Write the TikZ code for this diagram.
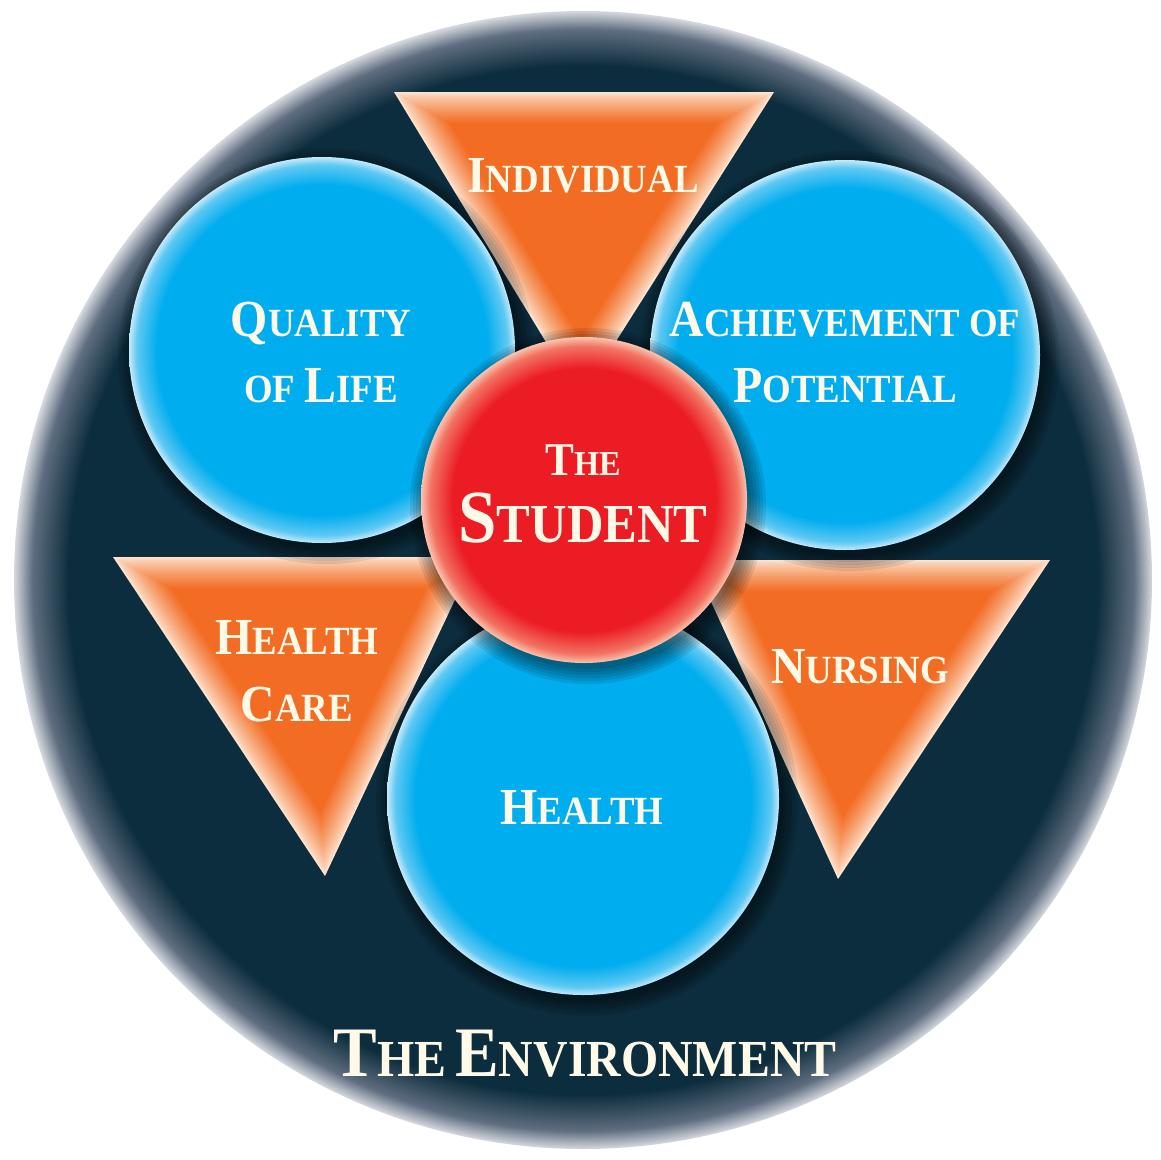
\documentclass[tikz,border=0pt]{standalone}
\usepackage{fontspec}
\setmainfont{Liberation Serif}[FakeStretch=0.92]
\usetikzlibrary{calc}

\definecolor{navy}{RGB}{12,45,61}
\definecolor{rimmid}{RGB}{95,110,128}
\definecolor{rimlight}{RGB}{214,217,223}
\definecolor{cyanc}{RGB}{0,173,238}
\definecolor{cyanm}{RGB}{95,200,243}
\definecolor{cyanl}{RGB}{195,234,250}
\definecolor{torange}{RGB}{242,108,35}
\definecolor{tpeach}{RGB}{253,228,208}
\definecolor{redc}{RGB}{236,28,36}
\definecolor{redm}{RGB}{242,115,98}
\definecolor{redl}{RGB}{250,195,175}
\definecolor{txt}{RGB}{255,249,232}

\pgfdeclareradialshading{envdisc}{\pgfpointorigin}{color(0bp)=(navy); color(22.6bp)=(navy); color(24.2bp)=(rimmid); color(25bp)=(rimlight); color(50bp)=(rimlight)}
\pgfdeclareradialshading{bluedisc}{\pgfpointorigin}{color(0bp)=(cyanc); color(21.4bp)=(cyanc); color(24bp)=(cyanm); color(25bp)=(cyanl); color(50bp)=(cyanl)}
\pgfdeclareradialshading{reddisc}{\pgfpointorigin}{color(0bp)=(redc); color(20.2bp)=(redc); color(23.6bp)=(redm); color(25bp)=(redl); color(50bp)=(redl)}

\newcommand\Bg[1]{{\fontsize{52}{52}\selectfont #1}}
\newcommand\Sm[1]{{\fontsize{40}{40}\selectfont #1}}

\newcommand\glowtri[4]{%
  \foreach \i in {0,...,22}{%
    \pgfmathsetmacro\s{1-\i*0.0135}%
    \pgfmathsetmacro\p{100*(\i/22)^0.8}%
    \fill[torange!\p!tpeach] ($(#4)!\s!(#1)$) -- ($(#4)!\s!(#2)$) -- ($(#4)!\s!(#3)$) -- cycle;
  }}
\newcommand\softshadow[2]{%
  \foreach \k in {0,...,5}{%
    \pgfmathsetmacro\rr{#2+3*\k}%
    \fill[black, opacity=0.09] ($(#1)+(4,6)$) circle[radius=\rr];
  }}

\tikzset{
  lbl/.style={text=txt, font=\bfseries\fontsize{40}{66}\selectfont, align=center, inner sep=0pt, anchor=base},
  bluec/.style={shading=bluedisc},
  redcirc/.style={shading=reddisc}
}

\begin{document}
\begin{tikzpicture}[x=1pt,y=-1pt]
\useasboundingbox (0,0) rectangle (1161,1159);
\fill[white] (0,0) rectangle (1161,1159);

% the environment disc
\coordinate (env) at (583,580);
\shade[shading=envdisc] (env) circle[radius=569];

% triangles
\coordinate (T1) at (394,92);  \coordinate (T2) at (774,92);   \coordinate (T3) at (580,398);  \coordinate (Ti) at (581.9,197.7);
\coordinate (L1) at (113,557); \coordinate (L2) at (475,557);  \coordinate (L3) at (325,876);  \coordinate (Li) at (309.3,662.2);
\coordinate (R1) at (692,560); \coordinate (R2) at (1050,560); \coordinate (R3) at (838,879);  \coordinate (Ri) at (854.9,664.6);
\glowtri{T1}{T2}{T3}{Ti}
\glowtri{L1}{L2}{L3}{Li}
\glowtri{R1}{R2}{R3}{Ri}

% blue circles
\coordinate (qol) at (322,350);
\coordinate (ach) at (845,355);
\coordinate (hea) at (583,799);
\softshadow{qol}{193}
\softshadow{ach}{195}
\softshadow{hea}{196}
\shade[bluec] (qol) circle[radius=193];
\shade[bluec] (ach) circle[radius=195];
\shade[bluec] (hea) circle[radius=196];

% red circle
\coordinate (stu) at (584,500);
\softshadow{stu}{163}
\shade[redcirc] (stu) circle[radius=163];

% labels (two-line nodes are placed at the baseline of their last line)
\node[lbl] (tIndividual) at (583,192) {\Bg{I}\Sm{NDIVIDUAL}};
\node[lbl] (tQuality) at (321,402) {\Bg{Q}\Sm{UALITY}\\\Sm{OF} \Bg{L}\Sm{IFE}};
\node[lbl] (tAchieve) at (845,402) {\Bg{A}\Sm{CHIEVEMENT OF}\\\Bg{P}\Sm{OTENTIAL}};
\node[lbl, font=\bfseries\fontsize{40}{67}\selectfont] (tStudent) at (583,542) {{\fontsize{47}{47}\selectfont T}{\fontsize{35}{35}\selectfont HE}\\{\fontsize{75}{75}\selectfont S}{\fontsize{55}{55}\selectfont TUDENT}};
\node[lbl, font=\bfseries\fontsize{40}{67}\selectfont] (tHealthCare) at (297,721) {\Bg{H}\Sm{EALTH}\\\Bg{C}\Sm{ARE}};
\node[lbl] (tNursing) at (860,683) {\Bg{N}\Sm{URSING}};
\node[lbl] (tHealth) at (582,824) {\Bg{H}\Sm{EALTH}};
\node[lbl] (tEnv) at (585,1076) {{\fontsize{71}{71}\selectfont T}{\fontsize{52}{52}\selectfont HE} {\fontsize{71}{71}\selectfont E}{\fontsize{52}{52}\selectfont NVIRONMENT}};
\end{tikzpicture}
\end{document}
